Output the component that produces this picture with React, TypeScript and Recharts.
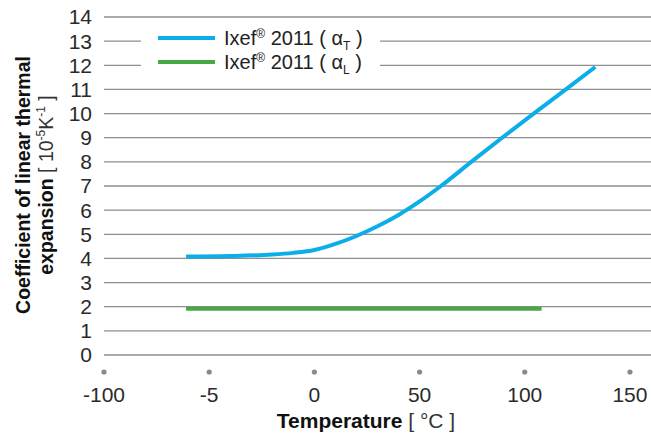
import React from "react";
import {
  LineChart,
  Line,
  CartesianGrid,
  XAxis,
  YAxis,
} from "recharts";

// Ixef 2011 transverse (alpha T)
const tempT = [-61, -40, -20, -10, 0, 10, 20, 30, 40, 50, 60, 75, 90, 105, 120, 133.5];
const alphaT = [4.08, 4.1, 4.16, 4.23, 4.35, 4.6, 4.93, 5.33, 5.8, 6.36, 6.99, 8.03, 9.05, 10.05, 11.03, 11.93];

// Ixef 2011 longitudinal (alpha L)
const tempL = [-61, 108];
const alphaL = [1.92, 1.92];

const xTicks = [-100, -50, 0, 50, 100, 150];
const xTickLabels = ["-100", "-5", "0", "50", "100", "150"];
const yTicks = [0, 1, 2, 3, 4, 5, 6, 7, 8, 9, 10, 11, 12, 13, 14];

const dataT = tempT.map((t, i) => ({ t, a: alphaT[i] }));
const dataL = tempL.map((t, i) => ({ t, a: alphaL[i] }));

const FONT = "'Liberation Sans', Arial, Helvetica, sans-serif";
const BLUE = "#0BAEE9";
const GREEN = "#48A846";

const XTick = (props: any) => {
  const { x, y, payload } = props;
  const idx = xTicks.indexOf(payload.value);
  return (
    <g>
      <circle cx={x} cy={y + 15} r={2.6} fill="#8a8a8a" />
      <text x={x} y={y + 45} textAnchor="middle" fontSize={21} fill="#2a2a2a" fontFamily={FONT}>
        {idx >= 0 ? xTickLabels[idx] : payload.value}
      </text>
    </g>
  );
};

const XLabel = () => (
  <text x={366} y={428} textAnchor="middle" fontSize={21} fill="#111" fontFamily={FONT}>
    <tspan fontWeight="bold">Temperature</tspan>
    <tspan fill="#333"> [ °C ]</tspan>
  </text>
);

const YLabel = () => (
  <g transform="translate(0,185) rotate(-90)">
    <text x={0} y={30} textAnchor="middle" fontSize={19.5} fontWeight="bold" fill="#111" fontFamily={FONT}>
      Coefficient of linear thermal
    </text>
    <text x={0} y={53} textAnchor="middle" fontSize={19.5} fill="#111" fontFamily={FONT}>
      <tspan fontWeight="bold">expansion</tspan>
      <tspan fill="#333"> [ 10</tspan>
      <tspan fill="#333" fontSize={12} dy={-8}>-5</tspan>
      <tspan fill="#333" dy={8}>K</tspan>
      <tspan fill="#333" fontSize={12} dy={-8}>-1</tspan>
      <tspan fill="#333" dy={8}> ]</tspan>
    </text>
  </g>
);

const LegendBox = () => {
  const row = (color: string, sub: string) => (
    <div style={{ display: "flex", alignItems: "center", height: 24 }}>
      <div style={{ width: 57, height: 4, background: color, marginRight: 9 }} />
      <span style={{ fontSize: 20, color: "#222", fontFamily: FONT, whiteSpace: "nowrap", lineHeight: "24px" }}>
        Ixef<sup style={{ fontSize: 12, verticalAlign: "7px", lineHeight: 0 }}>®</sup> 2011 ( α
        <sub style={{ fontSize: 12, verticalAlign: "-5px", lineHeight: 0 }}>{sub}</sub> )
      </span>
    </div>
  );
  return (
    <div
      style={{
        position: "absolute",
        left: 141,
        top: 24,
        background: "#fff",
        padding: "2px 13px 2px 17px",
        width: 209,
      }}
    >
      {row(BLUE, "T")}
      {row(GREEN, "L")}
    </div>
  );
};

export default function App() {
  return (
    <div style={{ position: "absolute", left: 0, top: 0, width: 651, height: 437, background: "#fff" }}>
      <LineChart width={651} height={437} margin={{ top: 17, right: 0, left: 0, bottom: 0 }}>
        <CartesianGrid vertical={false} stroke="#8e8e8e" strokeWidth={1.3} />
        <XAxis
          dataKey="t"
          type="number"
          domain={[-100, 160]}
          ticks={xTicks}
          interval={0}
          axisLine={false}
          tickLine={false}
          tickSize={0}
          height={82}
          tick={<XTick />}
          allowDuplicatedCategory={false}
          label={<XLabel />}
        />
        <YAxis
          type="number"
          domain={[0, 14]}
          ticks={yTicks}
          interval={0}
          axisLine={false}
          tickLine={false}
          tickSize={0}
          tickMargin={12}
          width={104}
          tick={{ fontSize: 21, fill: "#2a2a2a", fontFamily: FONT }}
          label={<YLabel />}
        />
        <Line
          data={dataT}
          dataKey="a"
          type="monotone"
          stroke={BLUE}
          strokeWidth={4}
          dot={false}
          isAnimationActive={false}
        />
        <Line
          data={dataL}
          dataKey="a"
          type="linear"
          stroke={GREEN}
          strokeWidth={4}
          dot={false}
          isAnimationActive={false}
        />
      </LineChart>
      <LegendBox />
    </div>
  );
}
